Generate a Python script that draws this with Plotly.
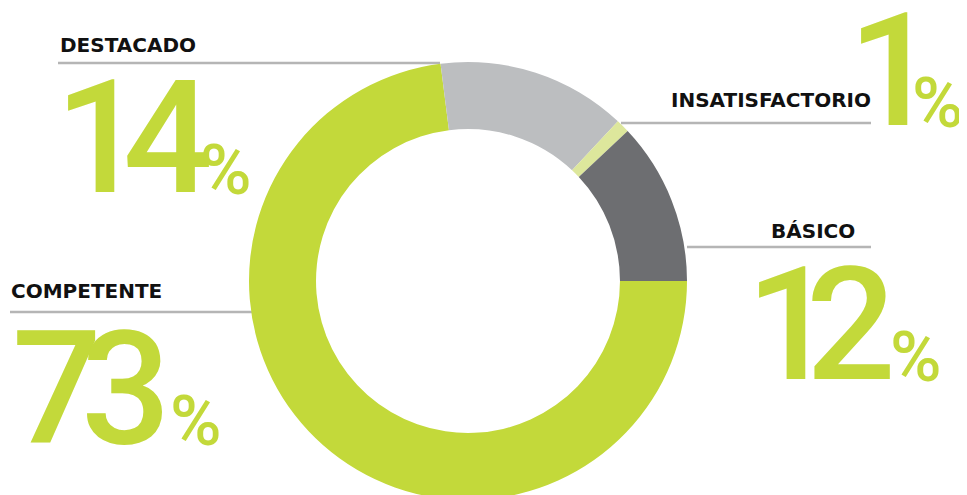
import plotly.graph_objects as go

# Data
categories = ["COMPETENTE", "DESTACADO", "INSATISFACTORIO", "BÁSICO"]
values = [73, 14, 1, 12]
colors = ["#c3d93a", "#bcbec0", "#dde79c", "#6d6e71"]

W, H = 967, 495
OFF = 8  # page body margin offset
LIME = "#c3d93a"
GRAY_LINE = "#b5b5b5"


def px(x):
    return (x - OFF) / W


def py(y):
    return 1 - (y - OFF) / H


fig = go.Figure()

cx, cy, r = 468, 281, 219
fig.add_trace(go.Pie(
    labels=categories,
    values=values,
    marker=dict(colors=colors, line=dict(width=0)),
    hole=0.694,
    sort=False,
    direction="clockwise",
    rotation=90,
    textinfo="none",
    hoverinfo="label+percent",
    showlegend=False,
    domain=dict(x=[px(cx - r), px(cx + r)], y=[py(cy + r), py(cy - r)]),
))

annotations = []
shapes = []

label_pos = {
    "DESTACADO": (58, "left", 52),
    "INSATISFACTORIO": (873, "right", 107),
    "BÁSICO": (857, "right", 238),
    "COMPETENTE": (9, "left", 298),
}
line_pos = {
    "DESTACADO": (58, 440, 63),
    "INSATISFACTORIO": (621, 871, 123),
    "BÁSICO": (687, 871, 247),
    "COMPETENTE": (10, 252, 312),
}
digit_pos = {
    "DESTACADO": ([53, 121], 195, 198),
    "INSATISFACTORIO": ([846], 128, 910),
    "BÁSICO": ([744, 804], 382, 888),
    "COMPETENTE": ([10, 79], 446, 168),
}

LABEL_SIZE = 20
DIGIT_SIZE = 158
PCT_SIZE = 70

for cat, val in zip(categories, values):
    lx, la, lb = label_pos[cat]
    annotations.append(dict(
        text=cat, x=px(lx), y=py(lb - LABEL_SIZE * 0.36), xref="paper", yref="paper",
        xanchor=la, yanchor="middle", showarrow=False,
        font=dict(family="DejaVu Sans", size=LABEL_SIZE, color="#111111", weight="bold"),
    ))
    x0, x1, ly = line_pos[cat]
    shapes.append(dict(type="line", xref="paper", yref="paper",
                       x0=px(x0), x1=px(x1), y0=py(ly), y1=py(ly),
                       line=dict(color=GRAY_LINE, width=2.5), layer="below"))
    dxs, base, pctx = digit_pos[cat]
    for d, dx in zip(str(val), dxs):
        annotations.append(dict(
            text=d, x=px(dx), y=py(base - DIGIT_SIZE * 0.36), xref="paper", yref="paper",
            xanchor="left", yanchor="middle", showarrow=False,
            font=dict(family="Roboto", size=DIGIT_SIZE, color=LIME, weight=500),
        ))
    annotations.append(dict(
        text="%", x=px(pctx), y=py(base - PCT_SIZE * 0.36), xref="paper", yref="paper",
        xanchor="left", yanchor="middle", showarrow=False,
        font=dict(family="Roboto", size=PCT_SIZE, color=LIME, weight=500),
    ))

fig.update_layout(
    width=W, height=H,
    margin=dict(l=0, r=0, t=0, b=0),
    paper_bgcolor="white", plot_bgcolor="white",
    annotations=annotations, shapes=shapes,
)

fig.write_html("out.html")
